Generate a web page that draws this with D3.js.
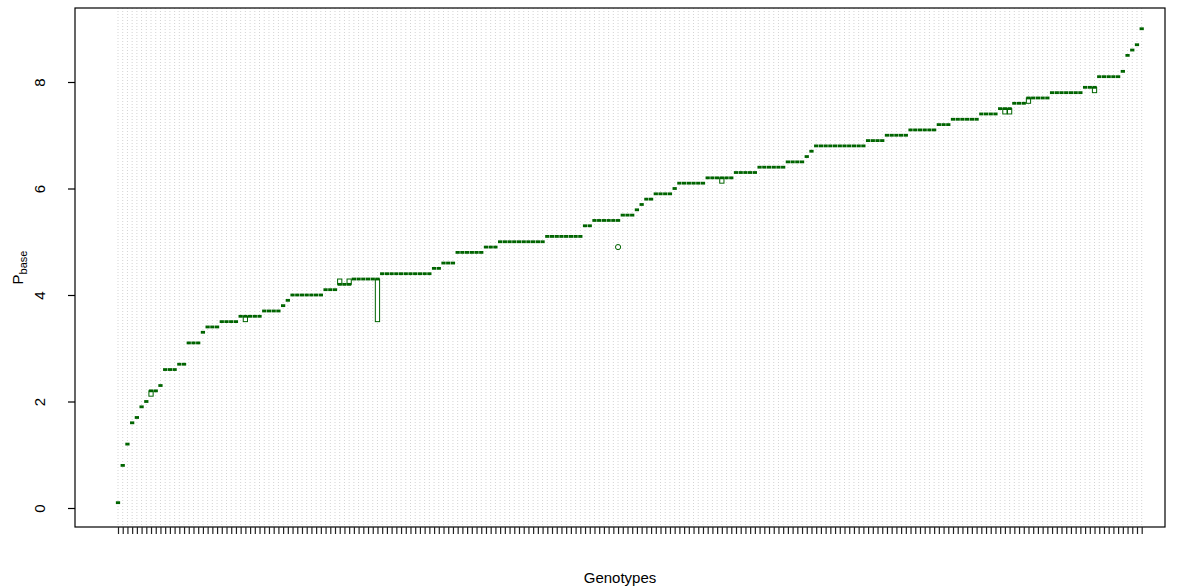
<!DOCTYPE html>
<meta charset="utf-8">
<style>
body {
  margin: 0;
  background: #fff;
  font-family: "Liberation Sans", Arial, sans-serif;
}
.grid line {
  stroke: #d3d3d3;
  stroke-width: 1;
  stroke-dasharray: 1,2;
}
.box {
  fill: #fff;
  stroke: #006400;
  stroke-width: 1;
}
.median {
  stroke: #006400;
  stroke-width: 2.8;
}
.outlier {
  fill: none;
  stroke: #006400;
  stroke-width: 1;
}
</style>
<body>
<script src="https://cdn.jsdelivr.net/npm/d3@7/dist/d3.min.js"></script>
<script>

// median of each genotype, already sorted as in the plot
var medians = [
  0.1, 0.8, 1.2, 1.6, 1.7, 1.9, 2.0, 2.2, 2.2, 2.3,
  2.6, 2.6, 2.6, 2.7, 2.7, 3.1, 3.1, 3.1, 3.3, 3.4,
  3.4, 3.4, 3.5, 3.5, 3.5, 3.5, 3.6, 3.6, 3.6, 3.6,
  3.6, 3.7, 3.7, 3.7, 3.7, 3.8, 3.9, 4.0, 4.0, 4.0,
  4.0, 4.0, 4.0, 4.0, 4.1, 4.1, 4.1, 4.2, 4.2, 4.2,
  4.3, 4.3, 4.3, 4.3, 4.3, 4.3, 4.4, 4.4, 4.4, 4.4,
  4.4, 4.4, 4.4, 4.4, 4.4, 4.4, 4.4, 4.5, 4.5, 4.6,
  4.6, 4.6, 4.8, 4.8, 4.8, 4.8, 4.8, 4.8, 4.9, 4.9,
  4.9, 5.0, 5.0, 5.0, 5.0, 5.0, 5.0, 5.0, 5.0, 5.0,
  5.0, 5.1, 5.1, 5.1, 5.1, 5.1, 5.1, 5.1, 5.1, 5.3,
  5.3, 5.4, 5.4, 5.4, 5.4, 5.4, 5.4, 5.5, 5.5, 5.5,
  5.6, 5.7, 5.8, 5.8, 5.9, 5.9, 5.9, 5.9, 6.0, 6.1,
  6.1, 6.1, 6.1, 6.1, 6.1, 6.2, 6.2, 6.2, 6.2, 6.2,
  6.2, 6.3, 6.3, 6.3, 6.3, 6.3, 6.4, 6.4, 6.4, 6.4,
  6.4, 6.4, 6.5, 6.5, 6.5, 6.5, 6.6, 6.7, 6.8, 6.8,
  6.8, 6.8, 6.8, 6.8, 6.8, 6.8, 6.8, 6.8, 6.8, 6.9,
  6.9, 6.9, 6.9, 7.0, 7.0, 7.0, 7.0, 7.0, 7.1, 7.1,
  7.1, 7.1, 7.1, 7.1, 7.2, 7.2, 7.2, 7.3, 7.3, 7.3,
  7.3, 7.3, 7.3, 7.4, 7.4, 7.4, 7.4, 7.5, 7.5, 7.5,
  7.6, 7.6, 7.6, 7.7, 7.7, 7.7, 7.7, 7.7, 7.8, 7.8,
  7.8, 7.8, 7.8, 7.8, 7.8, 7.9, 7.9, 7.9, 8.1, 8.1,
  8.1, 8.1, 8.1, 8.2, 8.5, 8.6, 8.7, 9.0
];

// genotypes whose box has some height (1-based position)
var boxIndex = [8, 28, 48, 50, 56, 129, 189, 190, 194, 208];
var boxLower = [2.1, 3.5, 4.2, 4.2, 3.5, 6.1, 7.4, 7.4, 7.6, 7.8];
var boxUpper = [2.2, 3.6, 4.3, 4.3, 4.3, 6.2, 7.5, 7.5, 7.7, 7.9];

var outlierIndex = [107];
var outlierValue = [4.9];

var yTicks = [0, 2, 4, 6, 8];

var width = 1179,
    height = 588;

var frame = {left: 75, right: 1165, top: 8, bottom: 527};

var x = d3.scaleLinear()
    .domain([1, medians.length])
    .range([118, 1141.7]);

var y = d3.scaleLinear()
    .domain([0, 8])
    .range([508, 82]);

var step = x(2) - x(1);

var svg = d3.select("body").append("svg")
    .attr("width", width)
    .attr("height", height);

var idx = d3.range(1, medians.length + 1);

// dotted vertical grid
svg.append("g")
    .attr("class", "grid")
  .selectAll("line")
    .data(idx)
  .enter().append("line")
    .attr("x1", function(d) { return x(d); })
    .attr("x2", function(d) { return x(d); })
    .attr("y1", frame.top)
    .attr("y2", frame.bottom);

// boxes with height
svg.append("g").selectAll("rect")
    .data(boxIndex)
  .enter().append("rect")
    .attr("class", "box")
    .attr("x", function(d) { return x(d) - step * 0.45; })
    .attr("width", step * 0.9)
    .attr("y", function(d, i) { return y(boxUpper[i]); })
    .attr("height", function(d, i) { return y(boxLower[i]) - y(boxUpper[i]); });

// medians
svg.append("g").selectAll("line")
    .data(medians)
  .enter().append("line")
    .attr("class", "median")
    .attr("x1", function(d, i) { return x(i + 1) - step * 0.45; })
    .attr("x2", function(d, i) { return x(i + 1) + step * 0.45; })
    .attr("y1", function(d) { return y(d); })
    .attr("y2", function(d) { return y(d); });

svg.append("g").selectAll("circle")
    .data(outlierIndex)
  .enter().append("circle")
    .attr("class", "outlier")
    .attr("cx", function(d) { return x(d); })
    .attr("cy", function(d, i) { return y(outlierValue[i]); })
    .attr("r", 2.6);

// frame
svg.append("rect")
    .attr("x", frame.left)
    .attr("y", frame.top)
    .attr("width", frame.right - frame.left)
    .attr("height", frame.bottom - frame.top)
    .style("fill", "none")
    .style("stroke", "#000")
    .style("stroke-width", 1.2);

// y axis
var yAxis = svg.append("g")
    .attr("transform", "translate(" + frame.left + ",0)")
    .call(d3.axisLeft(y).tickValues(yTicks).tickSize(7).tickPadding(0).tickFormat(d3.format("d")));
yAxis.select(".domain").remove();
yAxis.selectAll("line").style("stroke", "#000").style("stroke-width", 1.2);
yAxis.selectAll("text")
    .attr("x", null).attr("dy", null).attr("y", 0)
    .attr("transform", "translate(-30,0) rotate(-90)")
    .style("text-anchor", "middle")
    .style("font-size", "15px")
    .style("font-family", "Liberation Sans, Arial, sans-serif")
    .style("fill", "#000");

// x axis: ticks only
var xAxis = svg.append("g")
    .attr("transform", "translate(0," + frame.bottom + ")")
    .call(d3.axisBottom(x).tickValues(idx).tickSize(7).tickFormat(""));
xAxis.select(".domain").remove();
xAxis.selectAll("line").style("stroke", "#222").style("stroke-width", 1.2);

svg.append("text")
    .attr("x", (frame.left + frame.right) / 2)
    .attr("y", 583)
    .style("text-anchor", "middle")
    .style("font-size", "15px")
    .text("Genotypes");

var ylab = svg.append("text")
    .attr("transform", "translate(23," + (frame.top + frame.bottom) / 2 + ") rotate(-90)")
    .style("text-anchor", "middle")
    .style("font-size", "15px");
ylab.append("tspan").text("P");
ylab.append("tspan").attr("dy", 4).style("font-size", "11px").text("base");

</script>
